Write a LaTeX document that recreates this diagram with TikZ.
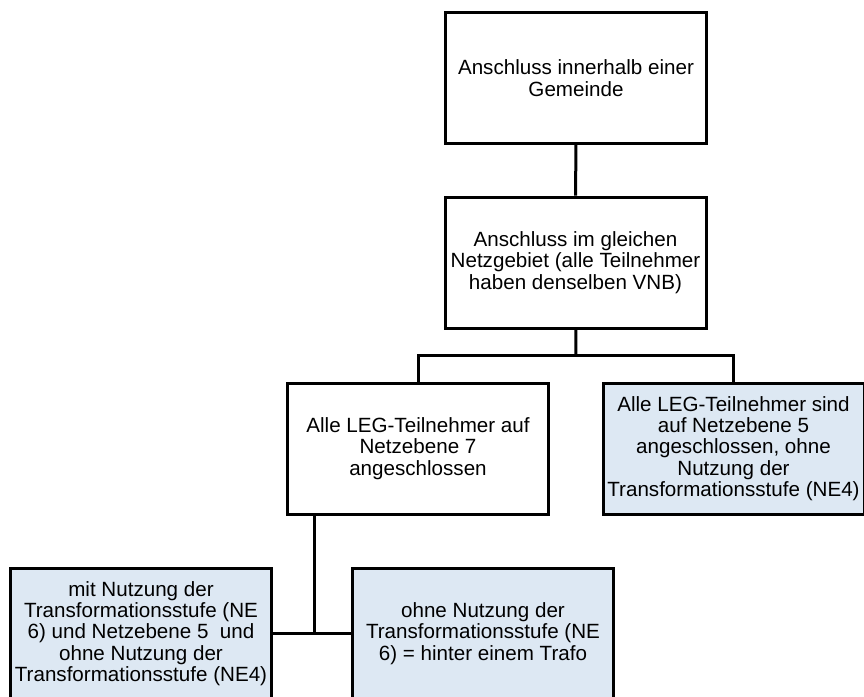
\documentclass[tikz,border=0pt]{standalone}
\usepackage{fontspec}
\setmainfont{Liberation Sans}
\definecolor{boxblue}{RGB}{221,232,243}

\begin{document}
\begin{tikzpicture}[x=0.5pt, y=-0.5pt, line width=1.5pt,
	box/.style={draw, rectangle, align=center, inner sep=0pt,
		minimum width=130.5pt, minimum height=65.5pt,
		font=\fontsize{10.3}{10.7}\selectfont},
	leaf/.style={box, fill=boxblue}]
	\useasboundingbox (0,0) rectangle (864,697);

	\node[box] (gemeinde) at (576,78) {Anschluss innerhalb einer\\Gemeinde};
	\node[box] (netzgebiet) at (575.5,262.5) {Anschluss im gleichen\\Netzgebiet (alle Teilnehmer\\haben denselben VNB)};
	\node[box] (ne7) at (418,448.5) {Alle LEG-Teilnehmer auf\\Netzebene 7\\angeschlossen};
	\node[leaf] (ne5) at (733.5,448.5) {Alle LEG-Teilnehmer sind\\auf Netzebene 5\\angeschlossen, ohne\\Nutzung der\\Transformationsstufe (NE4)};
	\node[leaf] (mit) at (141,633.5) {mit Nutzung der\\Transformationsstufe (NE\\6) und Netzebene 5\ \ und\\ohne Nutzung der\\Transformationsstufe (NE4)};
	\node[leaf] (ohne) at (483,633.5) {ohne Nutzung der\\Transformationsstufe (NE\\6) = hinter einem Trafo};

	\coordinate (fork) at (576,355);
	\coordinate (join) at (314,633.5);

	\draw (gemeinde) to (netzgebiet);
	\draw (netzgebiet) to (fork);
	\draw (fork) -| (ne7.north);
	\draw (fork) -| (ne5.north);

	\draw (mit) to (ohne);
	\draw (join |- ne7.south) to (join);
\end{tikzpicture}
\end{document}
